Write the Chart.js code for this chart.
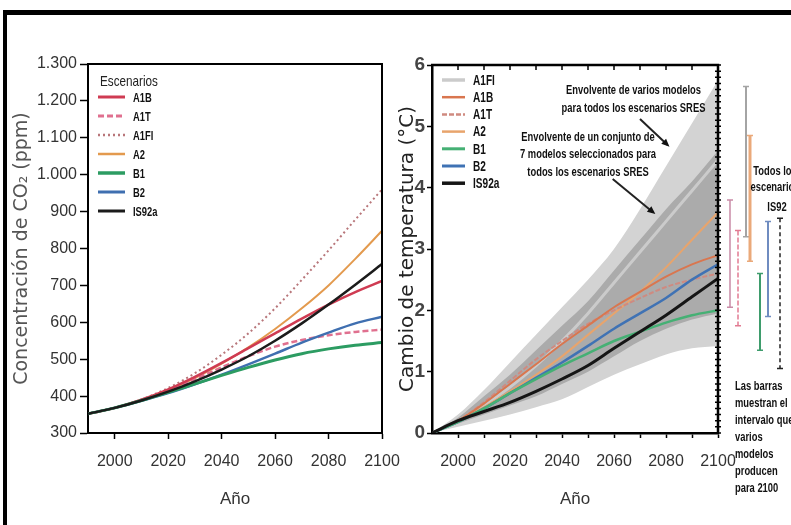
<!DOCTYPE html>
<html lang="es">
<head>
<meta charset="utf-8">
<title>Escenarios SRES: CO₂ y temperatura</title>
<script src="https://cdn.jsdelivr.net/npm/chart.js@4.4.1/dist/chart.umd.min.js"></script>
<style>
  html, body { margin: 0; padding: 0; background: #fff; }
  body { width: 791px; height: 525px; position: relative; overflow: hidden; }
  #marco { position: absolute; left: 3px; top: 10px; width: 820px; height: 540px;
           border-top: 5px solid #000; border-left: 4px solid #000; }
  canvas { position: absolute; top: 0; }
  #graficoCO2 { left: 0; }
  #graficoTemp { left: 390px; }
</style>
</head>
<body>
<div id="marco"></div>
<canvas id="graficoCO2" width="400" height="525"></canvas>
<canvas id="graficoTemp" width="401" height="525"></canvas>
<script>
const anios = [1990, 2000, 2010, 2020, 2030, 2040, 2050, 2060, 2070, 2080, 2090, 2100]

// concentracion de CO2 (ppm)
const co2A1B = [352, 368, 390, 418, 452, 490, 530, 570, 610, 648, 682, 712]
const co2A1T = [352, 368, 390, 416, 446, 478, 508, 534, 552, 565, 574, 580]
const co2A1FI = [352, 368, 391, 422, 462, 512, 570, 638, 715, 795, 878, 960]
const co2A2 = [352, 368, 389, 416, 449, 488, 532, 582, 638, 700, 772, 848]
const co2B1 = [352, 368, 388, 410, 433, 456, 478, 498, 515, 528, 538, 545]
const co2B2 = [352, 368, 387, 408, 432, 458, 486, 515, 545, 572, 597, 615]
const co2IS92a = [352, 368, 388, 412, 440, 472, 508, 550, 597, 648, 702, 758]

// cambio de temperatura (°C)
const tA1FI = [0, 0.2, 0.45, 0.75, 1.1, 1.5, 1.95, 2.45, 2.95, 3.45, 3.95, 4.45]
const tA1B = [0, 0.2, 0.48, 0.8, 1.12, 1.45, 1.75, 2.05, 2.3, 2.55, 2.75, 2.9]
const tA1T = [0, 0.2, 0.5, 0.85, 1.2, 1.5, 1.78, 2.0, 2.2, 2.38, 2.5, 2.6]
const tA2 = [0, 0.2, 0.42, 0.68, 0.95, 1.25, 1.6, 1.95, 2.3, 2.7, 3.15, 3.6]
const tB1 = [0, 0.18, 0.4, 0.65, 0.88, 1.1, 1.3, 1.5, 1.65, 1.8, 1.92, 2.0]
const tB2 = [0, 0.18, 0.4, 0.65, 0.9, 1.15, 1.42, 1.7, 1.95, 2.2, 2.5, 2.75]
const tIS92a = [0, 0.2, 0.35, 0.5, 0.68, 0.88, 1.1, 1.38, 1.65, 1.92, 2.22, 2.52]

// envolventes
const envolventeSup = [0, 0.3, 0.7, 1.15, 1.6, 2.05, 2.5, 3.0, 3.65, 4.35, 5.05, 5.75]
const envolventeInf = [0, 0.1, 0.2, 0.3, 0.42, 0.55, 0.75, 0.95, 1.12, 1.28, 1.38, 1.42]
const nucleoSup = [0, 0.25, 0.6, 0.95, 1.35, 1.75, 2.15, 2.65, 3.15, 3.65, 4.1, 4.6]
const nucleoInf = [0, 0.15, 0.3, 0.45, 0.6, 0.8, 1.0, 1.25, 1.5, 1.7, 1.85, 1.95]

// intervalos para 2100
const barrasNombre = ['A1B', 'A1T', 'A1FI', 'A2', 'B1', 'B2', 'IS92']
const barrasMin = [2.05, 1.75, 3.2, 2.8, 1.35, 1.9, 1.05]
const barrasMax = [3.8, 3.3, 5.65, 4.85, 2.6, 3.45, 3.5]

// ejes
const ticksAnio = [2000, 2020, 2040, 2060, 2080, 2100]
const ticksAnioMenor = [2000, 2010, 2020, 2030, 2040, 2050, 2060, 2070, 2080, 2090, 2100]
const ticksCO2 = [300, 400, 500, 600, 700, 800, 900, 1000, 1100, 1200, 1300]
const ticksTemp = [0, 1, 2, 3, 4, 5, 6]

const FUENTE = "'Liberation Sans', Arial, sans-serif"

const puntos = serie => anios.map((a, i) => ({ x: a, y: serie[i] }))

const serie = (label, valores, color, ancho, guiones, orden) => ({
    label, data: puntos(valores), borderColor: color, backgroundColor: color,
    borderWidth: ancho, borderDash: guiones || [], pointRadius: 0, fill: false,
    cubicInterpolationMode: 'monotone', order: orden
})

// eje x con alto fijo y sin el margen que pide la ultima etiqueta
const ajusteEjeX = s => {
    s.height = 92
    s.paddingLeft = 0
    s.paddingRight = 0
}

// texto comprimido en horizontal (letra estrecha)
const textoEstrecho = (ctx, s, x, y, alinear, escala) => {
    ctx.save()
    ctx.translate(x, y)
    ctx.scale(escala, 1)
    ctx.textAlign = alinear
    ctx.fillText(s, 0, 0)
    ctx.restore()
}

// leyenda dentro del area del grafico
const leyendaInterna = {
    id: 'leyendaInterna',
    afterDraw(chart, args, o) {
        const { ctx, chartArea: a } = chart
        const x = a.left + o.izquierda
        let y = a.top + o.arriba
        ctx.save()
        ctx.textBaseline = 'middle'
        if (o.titulo) {
            ctx.font = o.fuenteTitulo
            ctx.fillStyle = '#222'
            textoEstrecho(ctx, o.titulo, x + 2, y - o.pasoTitulo, 'left', 0.78)
        }
        chart.data.datasets.forEach(ds => {
            if (!ds.label) return
            ctx.beginPath()
            ctx.strokeStyle = ds.borderColor
            ctx.lineWidth = ds.borderWidth + 0.5
            ctx.setLineDash(ds.borderDash || [])
            ctx.moveTo(x, y)
            ctx.lineTo(x + o.largo, y)
            ctx.stroke()
            ctx.setLineDash([])
            ctx.font = o.fuente
            ctx.fillStyle = '#111'
            textoEstrecho(ctx, ds.label, x + o.largo + o.separacion, y + 1, 'left', 0.72)
            y += o.paso
        })
        ctx.restore()
    }
}

// bordes superior y derecho del recuadro
const cajaBordes = {
    id: 'cajaBordes',
    afterDraw(chart, args, o) {
        const { ctx, chartArea: a, scales } = chart
        ctx.save()
        ctx.strokeStyle = '#000'
        ctx.lineWidth = o.grosor
        ctx.beginPath()
        ctx.moveTo(a.left - 1, a.top)
        ctx.lineTo(a.right, a.top)
        ctx.lineTo(a.right, a.bottom + 1)
        ctx.stroke()
        if (o.marcasX) {
            ctx.lineWidth = 1.5
            ctx.beginPath()
            o.marcasX.forEach(v => {
                const px = scales.x.getPixelForValue(v)
                ctx.moveTo(px, a.top)
                ctx.lineTo(px, a.top + 5)
            })
            ctx.stroke()
        }
        if (o.pasoY) {
            ctx.lineWidth = 1.5
            ctx.beginPath()
            for (let v = scales.y.min; v <= scales.y.max + 1e-9; v += o.pasoY) {
                const py = scales.y.getPixelForValue(v)
                ctx.moveTo(a.right - 3, py)
                ctx.lineTo(a.right + 3, py)
            }
            ctx.stroke()
        }
        ctx.restore()
    }
}

// flechas, textos explicativos y barras de 2100
const notasTemp = {
    id: 'notasTemp',
    afterDraw(chart) {
        const { ctx, chartArea: a, scales: { x, y } } = chart
        ctx.save()
        ctx.fillStyle = '#111'
        ctx.textBaseline = 'middle'
        ctx.font = 'bold 12.5px ' + FUENTE

        const texto = (lineas, cx, cy, paso, alinear) => {
            lineas.forEach((l, i) => textoEstrecho(ctx, l, cx, cy + i * paso, alinear, 0.75))
        }
        texto(['Envolvente de varios modelos', 'para todos los escenarios SRES'],
            x.getPixelForValue(2067.5), y.getPixelForValue(5.58), 18, 'center')
        texto(['Envolvente de un conjunto de', '7 modelos seleccionados para', 'todos los escenarios SRES'],
            x.getPixelForValue(2050), y.getPixelForValue(4.82), 17.5, 'center')

        const flecha = (x0, y0, x1, y1) => {
            const p0 = [x.getPixelForValue(x0), y.getPixelForValue(y0)]
            const p1 = [x.getPixelForValue(x1), y.getPixelForValue(y1)]
            const ang = Math.atan2(p1[1] - p0[1], p1[0] - p0[0])
            ctx.strokeStyle = '#222'
            ctx.lineWidth = 2
            ctx.beginPath()
            ctx.moveTo(p0[0], p0[1])
            ctx.lineTo(p1[0], p1[1])
            ctx.stroke()
            ctx.beginPath()
            ctx.moveTo(p1[0] + 3 * Math.cos(ang), p1[1] + 3 * Math.sin(ang))
            ctx.lineTo(p1[0] - 5 * Math.cos(ang) + 3.5 * Math.sin(ang), p1[1] - 5 * Math.sin(ang) - 3.5 * Math.cos(ang))
            ctx.lineTo(p1[0] - 5 * Math.cos(ang) - 3.5 * Math.sin(ang), p1[1] - 5 * Math.sin(ang) + 3.5 * Math.cos(ang))
            ctx.closePath()
            ctx.fill()
        }
        flecha(2070, 5.12, 2080.5, 4.7)
        flecha(2059.5, 4.14, 2075, 3.6)

        // barras de intervalo a la derecha del recuadro
        const desplaz = [12, 20, 28, 32, 42, 50, 62]
        const colores = ['#c98aa6', '#e27b92', '#a4a4a4', '#eaa97a', '#3e9c6c', '#6f8cc0', '#222']
        const guiones = [[], [5, 2], [], [], [], [], [4, 3]]
        const anchos = [1.5, 1.5, 2, 3, 2, 2, 1.5]
        barrasNombre.forEach((n, i) => {
            const bx = a.right + desplaz[i]
            const yTop = y.getPixelForValue(barrasMax[i])
            const yBot = y.getPixelForValue(barrasMin[i])
            ctx.strokeStyle = colores[i]
            ctx.lineWidth = anchos[i]
            ctx.setLineDash(guiones[i])
            ctx.beginPath()
            ctx.moveTo(bx, yTop)
            ctx.lineTo(bx, yBot)
            ctx.stroke()
            ctx.setLineDash([])
            ctx.lineWidth = 1.5
            ctx.beginPath()
            ctx.moveTo(bx - 3, yTop)
            ctx.lineTo(bx + 3, yTop)
            ctx.moveTo(bx - 3, yBot)
            ctx.lineTo(bx + 3, yBot)
            ctx.stroke()
        })

        ctx.fillStyle = '#111'
        texto(['Todos los', 'escenarios'], a.right + 57, a.top + 107, 16, 'center')
        texto(['IS92'], a.right + 59, a.top + 143, 16, 'center')
        texto(['Las barras', 'muestran el', 'intervalo que', 'varios', 'modelos', 'producen', 'para 2100'],
            a.right + 17, a.bottom - 46, 17, 'left')
        ctx.restore()
    }
}

const etiquetaCO2 = v => v >= 1000 ? Math.floor(v / 1000) + '.' + String(v % 1000).padStart(3, '0') : String(v)

Chart.defaults.font.family = FUENTE

// panel izquierdo: CO2
new Chart(document.getElementById('graficoCO2'), {
    type: 'line',
    data: {
        datasets: [
            serie('A1B', co2A1B, '#cf3b52', 2.5, null, 2),
            serie('A1T', co2A1T, '#e0708f', 2.5, [6, 3], 2),
            serie('A1FI', co2A1FI, '#b8767a', 2, [2, 3], 2),
            serie('A2', co2A2, '#e39a4e', 2, null, 2),
            serie('B1', co2B1, '#2c9c62', 3, null, 1),
            serie('B2', co2B2, '#3f6fb0', 2.5, null, 1),
            serie('IS92a', co2IS92a, '#1b1b1b', 2.5, null, 0)
        ]
    },
    options: {
        responsive: false,
        animation: false,
        devicePixelRatio: 1,
        layout: { padding: { top: 64, right: 18, left: 0, bottom: 0 } },
        plugins: {
            legend: { display: false },
            tooltip: { enabled: false },
            leyendaInterna: {
                titulo: 'Escenarios', fuenteTitulo: '15px ' + FUENTE, pasoTitulo: 15,
                fuente: 'bold 13px ' + FUENTE, izquierda: 10, arriba: 33, largo: 27, separacion: 8, paso: 19
            },
            cajaBordes: { grosor: 2 }
        },
        scales: {
            x: {
                type: 'linear', min: 1990, max: 2100,
                afterFit: ajusteEjeX,
                afterBuildTicks: s => { s.ticks = ticksAnio.map(v => ({ value: v })) },
                border: { color: '#000', width: 2 },
                grid: { drawOnChartArea: false, color: '#000', tickLength: 6, tickWidth: 1.5 },
                ticks: { color: '#333', font: { size: 16 }, padding: 13, maxRotation: 0, callback: v => String(v) },
                title: { display: true, text: 'Año', color: '#333', font: { size: 17 }, padding: { top: 15, bottom: 15 } }
            },
            y: {
                min: 300, max: 1300,
                afterFit: s => { s.width = 88 },
                afterBuildTicks: s => { s.ticks = ticksCO2.map(v => ({ value: v })) },
                border: { color: '#000', width: 2 },
                grid: { drawOnChartArea: false, color: '#000', tickLength: 8, tickWidth: 1.5 },
                ticks: { color: '#333', font: { size: 16 }, padding: 3, callback: etiquetaCO2 },
                title: {
                    display: true, text: 'Concentración de CO₂ (ppm)', color: '#555',
                    font: { family: "'DejaVu Sans', sans-serif", size: 19 }, padding: { top: 11, bottom: 0 }
                }
            }
        }
    },
    plugins: [leyendaInterna, cajaBordes]
})

const banda = (valores, relleno, color, orden) => ({
    data: puntos(valores), borderWidth: 0, pointRadius: 0, cubicInterpolationMode: 'monotone',
    fill: relleno, backgroundColor: color, borderColor: color, order: orden
})

// panel derecho: temperatura
new Chart(document.getElementById('graficoTemp'), {
    type: 'line',
    data: {
        datasets: [
            serie('A1FI', tA1FI, '#cbcbcb', 3, null, 3),
            serie('A1B', tA1B, '#d9764f', 2, null, 2),
            serie('A1T', tA1T, '#cf8a80', 2, [5, 2], 2),
            serie('A2', tA2, '#e8a46c', 2, null, 2),
            serie('B1', tB1, '#45b074', 2.5, null, 1),
            serie('B2', tB2, '#3f72b4', 2.5, null, 1),
            serie('IS92a', tIS92a, '#151515', 3, null, 0),
            banda(envolventeSup, '+1', '#d3d3d3', 9),
            banda(envolventeInf, false, '#d3d3d3', 9),
            banda(nucleoSup, '+1', '#ababab', 8),
            banda(nucleoInf, false, '#ababab', 8)
        ]
    },
    options: {
        responsive: false,
        animation: false,
        devicePixelRatio: 1,
        layout: { padding: { top: 65, right: 73, left: 0, bottom: 0 } },
        plugins: {
            legend: { display: false },
            tooltip: { enabled: false },
            leyendaInterna: {
                fuente: 'bold 14px ' + FUENTE, izquierda: 10, arriba: 15, largo: 23, separacion: 8, paso: 17.2
            },
            cajaBordes: { grosor: 2.5, marcasX: ticksAnioMenor, pasoY: 0.1 }
        },
        scales: {
            x: {
                type: 'linear', min: 1990, max: 2100,
                afterFit: ajusteEjeX,
                afterBuildTicks: s => { s.ticks = ticksAnioMenor.map(v => ({ value: v })) },
                border: { color: '#000', width: 2.5 },
                grid: { drawOnChartArea: false, color: '#000', tickLength: 5, tickWidth: 1.5 },
                ticks: {
                    color: '#333', font: { size: 16 }, padding: 14, maxRotation: 0, autoSkip: false,
                    callback: v => ticksAnio.includes(v) ? String(v) : ''
                },
                title: { display: true, text: 'Año', color: '#333', font: { size: 17 }, padding: { top: 15, bottom: 15 } }
            },
            y: {
                min: 0, max: 6,
                afterFit: s => { s.width = 42 },
                afterBuildTicks: s => { s.ticks = ticksTemp.map(v => ({ value: v })) },
                border: { color: '#000', width: 2.5 },
                grid: { drawOnChartArea: false, color: '#000', tickLength: 5, tickWidth: 1.5 },
                ticks: { color: '#444', font: { size: 19, weight: 'bold' }, padding: 2 },
                title: {
                    display: true, text: 'Cambio de temperatura (°C)', color: '#222',
                    font: { family: "'DejaVu Sans', sans-serif", size: 20 }, padding: { top: 6, bottom: 0 }
                }
            }
        }
    },
    plugins: [leyendaInterna, cajaBordes, notasTemp]
})
</script>
</body>
</html>
